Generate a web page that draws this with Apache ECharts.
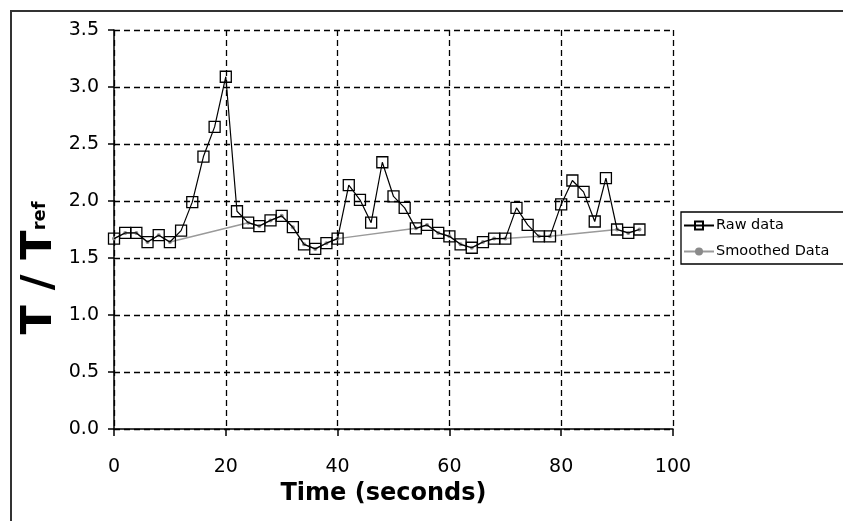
<!DOCTYPE html>
<html>
<head>
<meta charset="utf-8">
<script src="https://cdn.jsdelivr.net/npm/echarts@6/dist/echarts.min.js"></script>
<style>
  html, body { margin: 0; padding: 0; background: #fff; }
  #chart { width: 843px; height: 521px; }
</style>
</head>
<body>
<div id="chart"></div>
<script>
// Sample times (s) and the raw temperature ratio T / Tref
const timeSec = [0, 2, 4, 6, 8, 10, 12, 14, 16, 18, 20, 22, 24, 26, 28, 30, 32, 34, 36, 38,
  40, 42, 44, 46, 48, 50, 52, 54, 56, 58, 60, 62, 64, 66, 68, 70, 72, 74, 76, 78,
  80, 82, 84, 86, 88, 90, 92, 94];
const rawRatio = [1.67, 1.72, 1.72, 1.64, 1.70, 1.64, 1.74, 1.99, 2.39, 2.65, 3.09, 1.91, 1.81, 1.78, 1.83, 1.87, 1.77, 1.62, 1.58, 1.63,
  1.67, 2.14, 2.01, 1.81, 2.34, 2.04, 1.94, 1.76, 1.79, 1.72, 1.69, 1.62, 1.59, 1.64, 1.67, 1.67, 1.94, 1.79, 1.69, 1.69,
  1.97, 2.18, 2.08, 1.82, 2.20, 1.75, 1.72, 1.75];

// Smoothed series: peaks dropped, baseline samples kept
const smoothTime = [0, 2, 4, 6, 8, 10, 24, 26, 28, 30, 32, 34, 36, 38, 40,
  54, 56, 58, 60, 62, 64, 66, 68, 70, 76, 78, 90, 92, 94];
const smoothRatio = [1.67, 1.72, 1.72, 1.64, 1.70, 1.64, 1.81, 1.78, 1.83, 1.87, 1.77, 1.62, 1.58, 1.63, 1.67,
  1.76, 1.79, 1.72, 1.69, 1.62, 1.59, 1.64, 1.67, 1.67, 1.69, 1.69, 1.75, 1.72, 1.75];

const seriesNames = ['Raw data', 'Smoothed Data'];

const FONT = 'DejaVu Sans';
const pair = (xs, ys) => xs.map((x, i) => [x, ys[i]]);

const chart = echarts.init(document.getElementById('chart'), null, { renderer: 'canvas' });

chart.setOption({
  animation: false,
  backgroundColor: '#fff',
  grid: { left: 114, top: 30, right: 170, bottom: 92, containLabel: false },
  legend: {
    orient: 'vertical',
    left: 681,
    top: 212,
    data: seriesNames,
    itemWidth: 30,
    itemHeight: 10,
    itemGap: 11,
    padding: [6, 30, 5, 2],
    borderColor: '#000',
    borderWidth: 1.3,
    borderRadius: 0,
    textStyle: { fontFamily: FONT, fontSize: 14.5, color: '#000', padding: [0, 0, 0, -3] }
  },
  xAxis: {
    type: 'value',
    min: 0, max: 100, interval: 20,
    name: 'Time (seconds)',
    nameLocation: 'middle',
    nameGap: 48,
    nameTextStyle: { fontFamily: FONT, fontWeight: 'bold', fontSize: 24, color: '#000', padding: [0, 20, 0, 0] },
    axisLine: { onZero: false, lineStyle: { color: '#000', width: 1.5 } },
    axisTick: { length: 7, lineStyle: { color: '#000', width: 1.5 } },
    axisLabel: { margin: 29, fontFamily: FONT, fontSize: 19, color: '#000' },
    splitLine: { show: true, lineStyle: { type: [6, 4], color: '#000', width: 1.3 } }
  },
  yAxis: {
    type: 'value',
    min: 0, max: 3.5, interval: 0.5,
    axisLine: { show: true, onZero: false, lineStyle: { color: '#000', width: 1.5 } },
    axisTick: { show: true, length: 6, lineStyle: { color: '#000', width: 1.5 } },
    axisLabel: { margin: 15, fontFamily: FONT, fontSize: 19, color: '#000', formatter: v => v.toFixed(1) },
    splitLine: { show: true, lineStyle: { type: [6, 4], color: '#000', width: 1.3 } }
  },
  graphic: [
    {
      type: 'rect', silent: true,
      shape: { x: 11, y: 11, width: 900, height: 600 },
      style: { fill: 'none', stroke: '#333', lineWidth: 2 }
    },
    {
      type: 'text', silent: true,
      x: 40, y: 268, rotation: Math.PI / 2,
      style: {
        text: '{b|T / T}{s|ref}',
        align: 'center', verticalAlign: 'middle',
        rich: {
          b: { fontFamily: FONT, fontWeight: 'bold', fontSize: 43, fill: '#000' },
          s: { fontFamily: FONT, fontWeight: 'bold', fontSize: 18, fill: '#000', verticalAlign: 'middle' }
        }
      }
    }
  ],
  series: [
    {
      name: 'Smoothed Data',
      type: 'line',
      data: pair(smoothTime, smoothRatio),
      symbol: 'circle',
      symbolSize: 4,
      itemStyle: { color: '#8a8a8a' },
      lineStyle: { color: '#9a9a9a', width: 1.5 },
      z: 2
    },
    {
      name: 'Raw data',
      type: 'line',
      data: pair(timeSec, rawRatio),
      symbol: 'rect',
      symbolSize: 11,
      showAllSymbol: true,
      itemStyle: { color: 'rgba(0,0,0,0)', borderColor: '#000', borderWidth: 1.3 },
      lineStyle: { color: '#000', width: 1.2 },
      z: 3
    }
  ]
});
</script>
</body>
</html>
